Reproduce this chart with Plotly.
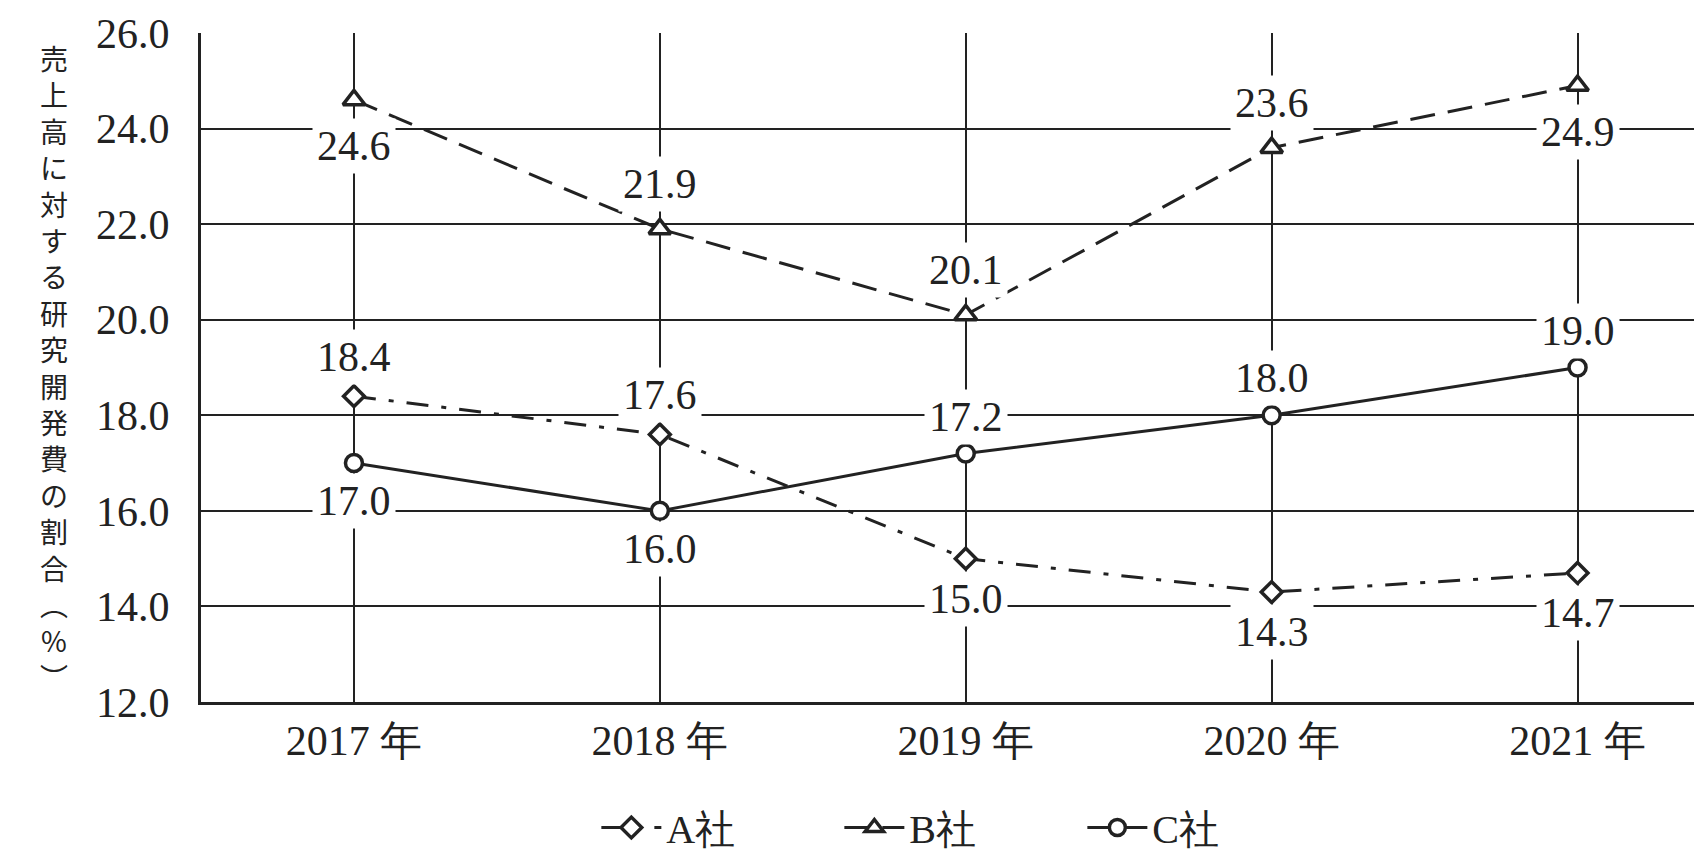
import plotly.graph_objects as go

years = ["2017 年", "2018 年", "2019 年", "2020 年", "2021 年"]
series_names = ["A社", "B社", "C社"]
a_values = [18.4, 17.6, 15.0, 14.3, 14.7]
b_values = [24.6, 21.9, 20.1, 23.6, 24.9]
c_values = [17.0, 16.0, 17.2, 18.0, 19.0]
a_label_pos = ["above", "above", "below", "below", "below"]
b_label_pos = ["below", "above", "above", "above", "below"]
c_label_pos = ["below", "below", "above", "above", "above"]
y_ticks = [12, 14, 16, 18, 20, 22, 24, 26]
y_title = "売上高に対する研究開発費の割合︵%︶"

INK = "#222222"
NUM_FONT = "Liberation Serif"

styles = {
    "A社": dict(dash="22px,13px,5px,13px", symbol="diamond", size=16, shift=39),
    "B社": dict(dash="25px,13px", symbol="triangle-up", size=19, shift=45),
    "C社": dict(dash="solid", symbol="circle", size=17, shift=37),
}

fig = go.Figure()
all_series = [("A社", a_values, a_label_pos), ("B社", b_values, b_label_pos), ("C社", c_values, c_label_pos)]
for name, vals, _ in all_series:
    st = styles[name]
    fig.add_trace(go.Scatter(
        x=years, y=vals, name=name, mode="lines+markers",
        line=dict(color=INK, width=3, dash=st["dash"]),
        marker=dict(symbol=st["symbol"], size=st["size"], color="white",
                    line=dict(color=INK, width=3.5)),
    ))

annotations = []
for name, vals, pos in all_series:
    sh = styles[name]["shift"]
    for x, v, p in zip(years, vals, pos):
        annotations.append(dict(
            x=x, y=v, xref="x", yref="y", text=f"{v:.1f}", showarrow=False,
            yshift=sh if p == "above" else -sh - 1,
            font=dict(family=NUM_FONT, size=42, color=INK),
            bgcolor="white", borderpad=4,
        ))

annotations.append(dict(
    x=-0.0974, y=0.5, xref="paper", yref="paper", xanchor="center", yanchor="middle",
    text="<br>".join(list(y_title)), showarrow=False,
    font=dict(family="Noto Sans CJK JP", size=28, color=INK),
))

fig.update_layout(
    width=1702, height=852,
    margin=dict(l=193, r=0, t=25, b=146),
    paper_bgcolor="white", plot_bgcolor="white",
    showlegend=True,
    legend=dict(orientation="h", x=0.262, xanchor="left", y=-0.188, yanchor="middle",
                font=dict(family=NUM_FONT, size=40, color=INK),
                itemwidth=60, entrywidth=168, entrywidthmode="pixels",
                bgcolor="rgba(0,0,0,0)"),
    annotations=annotations,
    xaxis=dict(
        type="category", range=[-0.5, 4.433],
        showgrid=True, gridcolor=INK, gridwidth=1.5,
        showline=True, linecolor=INK, linewidth=3,
        ticks="", tickfont=dict(family=NUM_FONT, size=42, color=INK),
        zeroline=False, fixedrange=True,
    ),
    yaxis=dict(
        range=[12, 26], tickvals=y_ticks, ticktext=[f"{t:.1f}" for t in y_ticks],
        showgrid=True, gridcolor=INK, gridwidth=1.5,
        showline=True, linecolor=INK, linewidth=3,
        ticks="", ticklabelstandoff=20,
        tickfont=dict(family=NUM_FONT, size=42, color=INK),
        zeroline=False, fixedrange=True,
    ),
)

fig.write_html("out.html")
